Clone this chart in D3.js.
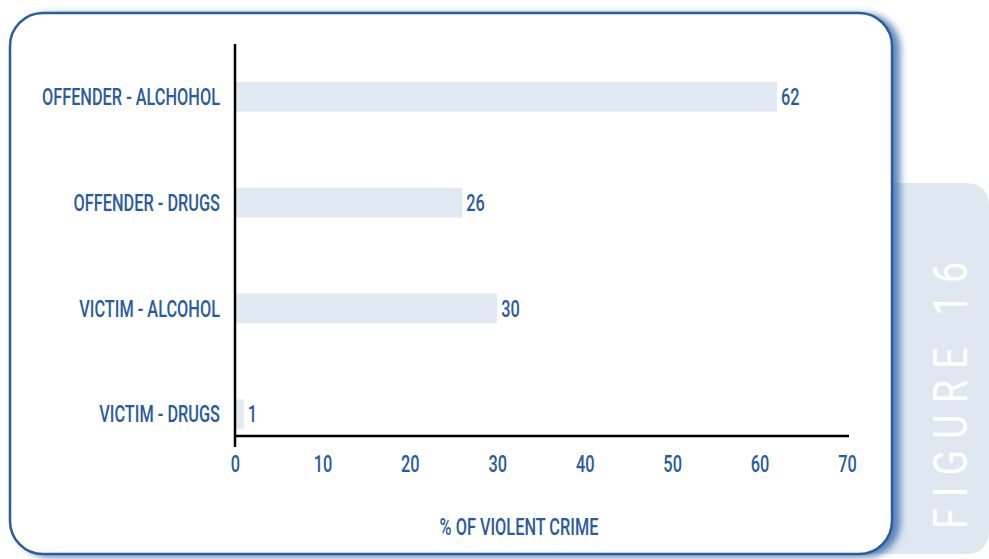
<!DOCTYPE html>
<html>
<head>
<meta charset="utf-8">
<script src="https://cdn.jsdelivr.net/npm/d3@7"></script>
<style>
  html, body { margin: 0; padding: 0; background: #fff; }
  svg { display: block; }
  text { font-family: Roboto, "Liberation Sans", Arial, sans-serif; }
</style>
</head>
<body>
<svg id="chart" width="989" height="559"></svg>
<script>
// Share of violent crime where alcohol / drugs were involved
const categories = ["OFFENDER - ALCHOHOL", "OFFENDER - DRUGS", "VICTIM - ALCOHOL", "VICTIM - DRUGS"];
const values = [62, 26, 30, 1];
const xTicks = [0, 10, 20, 30, 40, 50, 60, 70];
const axisTitle = "% OF VIOLENT CRIME";
const figureLabel = "FIGURE 16";

const blue = "#2a5b9e";
const barFill = "#e1e9f2";
const squeeze = 0.71;     // horizontal compression for the condensed lettering
const labelSize = 23;
const labelWeight = 500;

const svg = d3.select("#chart");
const defs = svg.append("defs");

const shadow = defs.append("filter").attr("id", "cardShadow")
  .attr("x", "-5%").attr("y", "-5%").attr("width", "115%").attr("height", "115%");
shadow.append("feDropShadow")
  .attr("dx", 7).attr("dy", 2).attr("stdDeviation", 3.5)
  .attr("flood-color", "#2f62a6").attr("flood-opacity", 0.75);

// Side tab behind the card
const tab = { x0: 860, x1: 989, y0: 183, y1: 554, r: 24 };
svg.append("path")
  .attr("d", `M${tab.x0},${tab.y1} L${tab.x0},${tab.y0} L${tab.x1 - tab.r},${tab.y0} Q${tab.x1},${tab.y0} ${tab.x1},${tab.y0 + tab.r} L${tab.x1},${tab.y1 - tab.r} Q${tab.x1},${tab.y1} ${tab.x1 - tab.r},${tab.y1} Z`)
  .attr("fill", "#dfe7f1");

// Rotated tab caption, reading bottom to top
const cap = svg.append("text")
  .attr("transform", "translate(967,529) rotate(-90)")
  .attr("text-anchor", "start")
  .attr("fill", "#ffffff")
  .attr("font-family", "'Liberation Sans', Arial, sans-serif")
  .attr("font-size", 48)
  .attr("letter-spacing", 0)
  .text(figureLabel);
{
  // spread the letters so the caption covers the tab's reading length
  const target = 267;
  const n = figureLabel.length;
  const raw = cap.node().getComputedTextLength() * 0.78;
  cap.attr("transform", "translate(967,529) rotate(-90) scale(0.78,1)")
     .attr("letter-spacing", ((target - raw) / (n - 1)) / 0.78);
}

// Card
svg.append("rect")
  .attr("x", 10).attr("y", 13).attr("width", 882).attr("height", 541)
  .attr("rx", 33).attr("ry", 33)
  .attr("fill", "#ffffff")
  .attr("stroke", blue).attr("stroke-width", 2.5)
  .attr("filter", "url(#cardShadow)");

// Scales
const x = d3.scaleLinear().domain([0, 70]).range([235, 847]);
const y = d3.scaleBand().domain(categories).range([44, 467]).paddingInner(0.72).paddingOuter(0.36);

const g = svg.append("g");

// Bars
g.selectAll("rect.bar").data(categories).join("rect")
  .attr("class", "bar")
  .attr("x", x(0))
  .attr("y", d => y(d))
  .attr("width", (d, i) => x(values[i]) - x(0))
  .attr("height", y.bandwidth())
  .attr("fill", barFill);

// Value labels
g.selectAll("text.val").data(categories).join("text")
  .attr("class", "val")
  .attr("transform", (d, i) => `translate(${x(values[i]) + 4},${y(d) + y.bandwidth() / 2}) scale(${squeeze},1)`)
  .attr("dy", "0.36em")
  .attr("fill", blue)
  .attr("font-size", labelSize)
  .attr("font-weight", labelWeight)
  .text((d, i) => values[i]);

// Category labels
g.selectAll("text.cat").data(categories).join("text")
  .attr("class", "cat")
  .attr("transform", d => `translate(220,${y(d) + y.bandwidth() / 2}) scale(${squeeze},1)`)
  .attr("dy", "0.36em")
  .attr("text-anchor", "end")
  .attr("fill", blue)
  .attr("font-size", labelSize)
  .attr("font-weight", labelWeight)
  .text(d => d);

// Axes
const xAxis = d3.axisBottom(x).tickValues(xTicks).tickSize(0).tickPadding(20);
const xg = svg.append("g").attr("transform", "translate(0,436)").call(xAxis);
xg.select(".domain").attr("d", `M${x(0)},0H849`).attr("stroke", "#000").attr("stroke-width", 2.5);
xg.selectAll(".tick text")
  .attr("fill", blue)
  .attr("font-size", labelSize)
  .attr("font-weight", labelWeight)
  .attr("font-family", "Roboto, 'Liberation Sans', Arial, sans-serif")
  .attr("transform", `scale(${squeeze},1)`);

svg.append("line")
  .attr("x1", x(0)).attr("x2", x(0)).attr("y1", 44).attr("y2", 447)
  .attr("stroke", "#000").attr("stroke-width", 2.5);

svg.append("text")
  .attr("transform", `translate(519,535) scale(${squeeze},1)`)
  .attr("text-anchor", "middle")
  .attr("fill", blue)
  .attr("font-size", labelSize)
  .attr("font-weight", labelWeight)
  .text(axisTitle);
</script>
</body>
</html>
